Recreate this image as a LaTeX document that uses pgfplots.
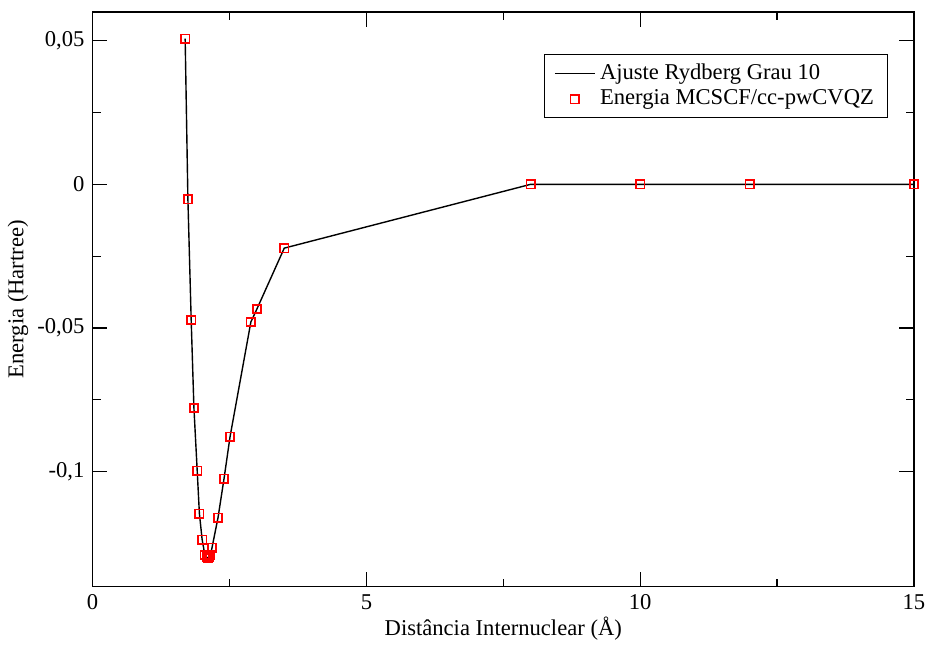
\documentclass[border=0pt]{standalone}
\usepackage{fontspec}
\setmainfont{Liberation Serif}
\usepackage{pgfplots}
\pgfplotsset{compat=1.18}

\pgfplotstableread{
x y
1.69 0.0507
1.74 -0.0052
1.80 -0.0472
1.85 -0.0778
1.91 -0.0997
1.95 -0.1146
2.00 -0.1236
2.05 -0.1290
2.08 -0.1298
2.10 -0.1300
2.12 -0.1297
2.15 -0.1290
2.18 -0.1265
2.29 -0.1160
2.40 -0.1024
2.51 -0.0878
2.89 -0.0479
3.00 -0.0434
3.50 -0.0222
8.00 0.0
10.00 0.0
12.00 0.0
15.00 0.0
}\energia

\begin{document}
\begin{tikzpicture}
\begin{axis}[
    width=12.39cm, height=8.67cm,
    scale only axis,
    xmin=0, xmax=15, ymin=-0.14, ymax=0.06,
    xtick={0,5,10,15},
    ytick={-0.1,-0.05,0,0.05},
    yticklabels={{-0,1},{-0,05},{0},{0,05}},
    minor x tick num=1, minor y tick num=1,
    tick align=inside,
    major tick length=0.22cm, minor tick length=0.12cm,
    tick style={black, line width=0.5pt},
    axis line style={line width=0.6pt},
    font=\fontsize{9.7}{11}\selectfont,
    /pgf/number format/assume math mode=true,
    xlabel={Distância Internuclear (Å)},
    ylabel={Energia (Hartree)},
    xlabel style={yshift=4pt},
    ylabel style={yshift=-3pt},
    scaled y ticks=false,
    legend cell align=left,
    legend style={at={(rel axis cs:0.969,0.927)}, anchor=north east,
        draw=black, line width=0.5pt, inner xsep=4pt, inner ysep=2pt,
        row sep=-1pt},
]
\addplot[black, line width=0.6pt] table[x=x, y=y] {\energia};
\addlegendentry{Ajuste Rydberg Grau 10}
\addplot[only marks, red, mark=square, mark size=1.8pt,
    mark options={draw=red, fill=none, line width=0.7pt}] table[x=x, y=y] {\energia};
\addlegendentry{Energia MCSCF/cc-pwCVQZ}
\coordinate (ur) at (rel axis cs:1,1);
\end{axis}
% blank margin above and to the right, as in the original
\path ([xshift=0.2cm, yshift=0.18cm]ur);
\end{tikzpicture}
\end{document}
